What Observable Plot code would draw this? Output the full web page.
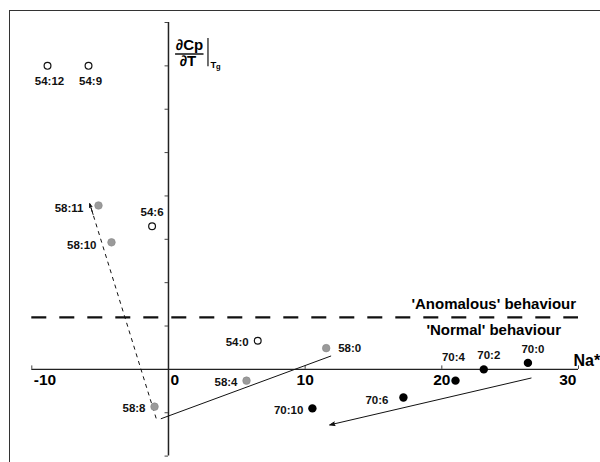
<!DOCTYPE html>
<html>
<head>
<meta charset="utf-8">
<script src="https://cdn.jsdelivr.net/npm/d3@7"></script>
<script src="https://cdn.jsdelivr.net/npm/@observablehq/plot@0.6"></script>
<style>
  html, body { margin: 0; padding: 0; background: #fff; }
  #wrap { position: relative; width: 600px; height: 462px; overflow: hidden; }
  #frame { position: absolute; left: 9px; top: 10px; right: -5px; bottom: -5px;
           border-top: 1.5px solid #333; border-left: 1.5px solid #333; pointer-events: none; }
</style>
</head>
<body>
<div id="wrap"><div id="frame"></div></div>
<script>
// --- data ---
const labels = ["54:12","54:9","54:6","54:0","58:11","58:10","58:8","58:4","58:0","70:10","70:6","70:4","70:2","70:0"];
const naStar = [-8.85, -5.85, -1.2, 6.53, -5.12, -4.17, -1.02, 5.71, 11.54, 10.53, 17.19, 21.0, 23.07, 26.3];
const dCpdT  = [7.0, 7.0, 3.3, 0.66, 3.78, 2.93, -0.86, -0.26, 0.49, -0.9, -0.65, -0.26, 0.0, 0.15];
const xTicks = [-10, 0, 10, 20, 30];
const yTicks = [-2, -1, 1, 2, 3, 4, 5, 6, 7, 8];
const anomalyThreshold = 1.2;
// trend lines: [x1, y1, x2, y2]
const trend58dashed = [-0.9, -1.13, -5.76, 3.82];
const trend58solid  = [-0.56, -1.14, 11.9, 0.31];
const trend70arrow  = [26.53, -0.2, 11.8, -1.28];

const pts = labels.map((l, i) => ({label: l, series: l.split(":")[0], x: naStar[i], y: dCpdT[i]}));
const seg = a => [{x1: a[0], y1: a[1], x2: a[2], y2: a[3]}];
// short segment at the tip of a line, used to draw a solid arrow head on a dashed line
const tip = (a, f) => [{x1: a[2] - f * (a[2] - a[0]), y1: a[3] - f * (a[3] - a[1]), x2: a[2], y2: a[3]}];

const belowL = ["54:12", "54:9"];
const aboveCL = ["54:6"];
const aboveL = ["70:2", "70:0"];
const aboveHighL = ["70:4"];
const rightL = ["58:0"];
const leftFarL = ["58:11", "58:10", "70:6"];
const leftNearL = ["58:8", "54:0", "58:4", "70:10"];
const sel = set => pts.filter(d => set.includes(d.label));

const F = "'Liberation Sans', Arial, Helvetica, sans-serif";
const lab = {x: "x", y: "y", text: "label", fontSize: 11.5, fontWeight: "bold", fill: "#111"};
const lk = {x1: "x1", y1: "y1", x2: "x2", y2: "y2", stroke: "#111", strokeWidth: 1};

const chart = Plot.plot({
  width: 600, height: 462,
  marginLeft: 31.3, marginRight: 22, marginTop: 22, marginBottom: 6.4,
  x: {domain: [-10, 30], axis: null},
  y: {domain: [-2, 8], axis: null},
  style: {fontFamily: F, background: "transparent", overflow: "visible"},
  marks: [
    // axes
    Plot.ruleY([0], {stroke: "#222", strokeWidth: 1.2}),
    Plot.ruleX([0], {stroke: "#222", strokeWidth: 1.5}),
    Plot.ruleY(yTicks, {y: d => d, x1: -0.25, x2: 0, stroke: "#444", strokeWidth: 1}),
    Plot.ruleX(xTicks.filter(d => d !== 0), {x: d => d, y1: 0, y2: 0.08, stroke: "#444", strokeWidth: 1}),
    Plot.text(xTicks.filter(d => d <= 0), {x: d => d, y: 0, text: d => String(d), textAnchor: "start", dx: 2, dy: 11, fontSize: 15.5, fontWeight: "bold"}),
    Plot.text(xTicks.filter(d => d > 0 && d < 30), {x: d => d, y: 0, text: d => String(d), textAnchor: "middle", dy: 11, fontSize: 15.5, fontWeight: "bold"}),
    Plot.text(xTicks.filter(d => d >= 30), {x: d => d, y: 0, text: d => String(d), textAnchor: "end", dx: -2, dy: 11, fontSize: 15.5, fontWeight: "bold"}),
    Plot.text(["Na*"], {x: 30, y: 0, text: d => d, textAnchor: "start", dx: -5, dy: -9, fontSize: 16, fontWeight: "bold"}),
    // y-axis label: ∂Cp/∂T |Tg
    Plot.text(["\u2202Cp"], {x: 0, y: 8, text: d => d, textAnchor: "middle", lineAnchor: "bottom", dx: 21, dy: 27, fontSize: 15, fontWeight: "bold"}),
    Plot.ruleY([8], {x1: 0.52, x2: 2.6, dy: 31.5, stroke: "#111", strokeWidth: 1.5}),
    Plot.text(["\u2202T"], {x: 0, y: 8, text: d => d, textAnchor: "middle", lineAnchor: "bottom", dx: 19.5, dy: 43, fontSize: 15, fontWeight: "bold"}),
    Plot.ruleX([0], {y1: 8, y2: 7.35, dx: 39.5, dy: 16, stroke: "#111", strokeWidth: 1.2}),
    Plot.text(["T"], {x: 0, y: 8, text: d => d, textAnchor: "start", lineAnchor: "bottom", dx: 42, dy: 45, fontSize: 9.5, fontWeight: "bold"}),
    Plot.text(["g"], {x: 0, y: 8, text: d => d, textAnchor: "start", lineAnchor: "bottom", dx: 47.5, dy: 46.5, fontSize: 7.5, fontWeight: "bold"}),
    // anomaly threshold
    Plot.ruleY([anomalyThreshold], {stroke: "#111", strokeWidth: 2.2, strokeDasharray: "15,13"}),
    Plot.text(["'Anomalous' behaviour"], {x: 23.8, y: anomalyThreshold, text: d => d, textAnchor: "middle", dy: -13, fontSize: 15, fontWeight: "bold"}),
    Plot.text(["'Normal' behaviour"], {x: 23.8, y: anomalyThreshold, text: d => d, textAnchor: "middle", dy: 13, fontSize: 15, fontWeight: "bold"}),
    // trend lines
    Plot.link(seg(trend58dashed), {...lk, strokeDasharray: "4,4"}),
    Plot.arrow(tip(trend58dashed, 0.05), {...lk, fill: "#111", headLength: 8, headAngle: 40}),
    Plot.link(seg(trend58solid), lk),
    Plot.arrow(seg(trend70arrow), {...lk, fill: "#111", headLength: 8, headAngle: 40}),
    // points
    Plot.dot(pts.filter(d => d.series === "54"), {x: "x", y: "y", r: 3.4, fill: "white", stroke: "#111", strokeWidth: 1.2}),
    Plot.dot(pts.filter(d => d.series === "58"), {x: "x", y: "y", r: 3.8, fill: "#9a9a9a", stroke: "#888", strokeWidth: 0.6}),
    Plot.dot(pts.filter(d => d.series === "70"), {x: "x", y: "y", r: 4.2, fill: "#000"}),
    // point labels
    Plot.text(sel(belowL), {...lab, textAnchor: "middle", dx: 2, dy: 15}),
    Plot.text(sel(aboveCL), {...lab, textAnchor: "middle", dx: 0, dy: -14}),
    Plot.text(sel(aboveL), {...lab, textAnchor: "middle", dx: 5, dy: -14}),
    Plot.text(sel(aboveHighL), {...lab, textAnchor: "middle", dx: -2, dy: -23}),
    Plot.text(sel(rightL), {...lab, textAnchor: "start", dx: 12}),
    Plot.text(sel(leftFarL), {...lab, textAnchor: "end", dx: -15, dy: 3}),
    Plot.text(sel(leftNearL), {...lab, textAnchor: "end", dx: -9, dy: 2})
  ]
});
document.getElementById("wrap").prepend(chart);
</script>
</body>
</html>
